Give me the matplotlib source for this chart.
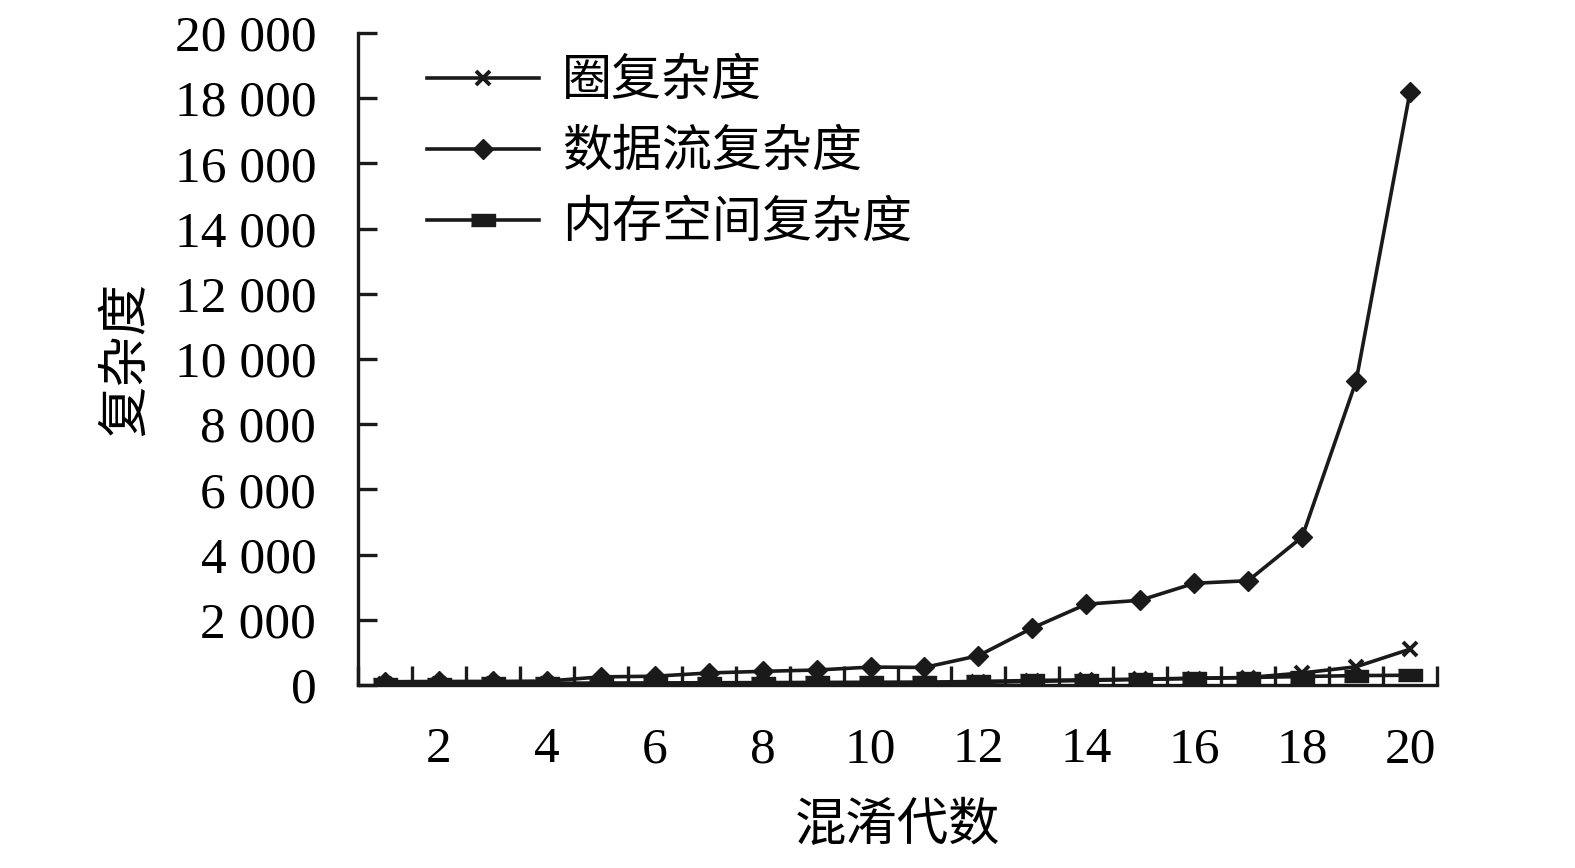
import matplotlib
matplotlib.use("Agg")
import matplotlib.pyplot as plt
from matplotlib.ticker import FuncFormatter

generations = list(range(1, 21))
cyclomatic = [20, 20, 20, 20, 25, 25, 30, 30, 35, 40, 45, 80, 110, 140, 170, 200, 230, 370, 560, 1100]
dataflow = [100, 110, 110, 120, 250, 270, 370, 420, 460, 550, 540, 900, 1750, 2480, 2600, 3120, 3200, 4540, 9320, 18200]
memory = [40, 45, 50, 55, 60, 65, 70, 75, 80, 85, 90, 110, 140, 160, 180, 210, 230, 260, 290, 300]

series_names = ["圈复杂度", "数据流复杂度", "内存空间复杂度"]
x_tick_labels = [2, 4, 6, 8, 10, 12, 14, 16, 18, 20]
y_ticks = list(range(0, 20001, 2000))

cjk = ["Noto Sans CJK SC", "DejaVu Sans"]
serif = ["Liberation Serif", "DejaVu Serif"]

fig = plt.figure(figsize=(15.75, 8.68), dpi=100)
ax = fig.add_axes([0.2273, 0.2108, 0.6851, 0.7512])

rect = [(-1, -0.5), (1, -0.5), (1, 0.5), (-1, 0.5)]
lw = 2.6
ax.plot(generations, cyclomatic, color="#1a1a1a", lw=lw, marker="x", ms=10, mew=2.8, label=series_names[0], zorder=3)
ax.plot(generations, dataflow, color="#1a1a1a", lw=lw, marker="D", ms=10, label=series_names[1], zorder=4)
ax.plot(generations, memory, color="#1a1a1a", lw=lw, marker=rect, ms=17, label=series_names[2], zorder=3)

ax.set_xlim(0.5, 20.5)
ax.set_ylim(0, 20000)
for s in ["top", "right"]:
    ax.spines[s].set_visible(False)
for s in ["left", "bottom"]:
    ax.spines[s].set_linewidth(2.4)
    ax.spines[s].set_color("#1a1a1a")

ax.set_xticks(x_tick_labels)
ax.set_xticklabels([str(v) for v in x_tick_labels], fontfamily=serif, fontsize=37)
ax.set_xticks([i + 0.5 for i in range(0, 21)], minor=True)
ax.tick_params(axis="x", which="major", length=0, pad=30)
ax.tick_params(axis="x", which="minor", direction="in", length=14, width=2.4, color="#1a1a1a")

ax.set_yticks(y_ticks)
ax.yaxis.set_major_formatter(FuncFormatter(lambda v, p: f"{int(v):,}".replace(",", " ")))
ax.tick_params(axis="y", direction="in", length=14, width=2.4, color="#1a1a1a", labelsize=37, pad=30)
for lab in ax.get_yticklabels():
    lab.set_fontfamily(serif)

ax.set_xlabel("混淆代数", fontfamily=cjk, fontsize=37, labelpad=18)
ax.set_ylabel("复杂度", fontfamily=cjk, fontsize=37, labelpad=16)

leg = ax.legend(loc="upper left", bbox_to_anchor=(0.022, 1.035), frameon=False,
                prop={"family": cjk, "size": 36}, handlelength=2.25, labelspacing=0.38,
                handletextpad=0.45)

fig.savefig("out.png", dpi=100)
